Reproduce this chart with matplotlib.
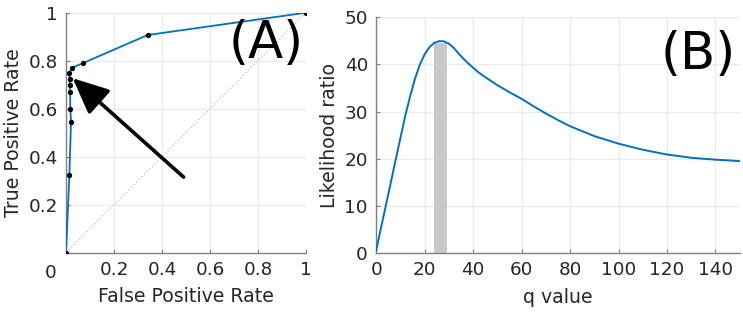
import matplotlib
matplotlib.use("Agg")
import matplotlib.pyplot as plt

# ROC curve (panel A)
fpr = [0.0, 0.014, 0.021, 0.018, 0.017, 0.015, 0.015, 0.014, 0.024, 0.071, 0.340, 1.0]
tpr = [0.0, 0.325, 0.545, 0.597, 0.670, 0.698, 0.723, 0.748, 0.770, 0.790, 0.907, 1.0]
arrow_tail = (0.49, 0.315)
arrow_tip = (0.028, 0.727)

# Likelihood ratio curve (panel B)
q = [0, 2, 4, 6, 8, 10, 12, 14, 16, 18, 20, 22, 24, 26, 28, 30, 32, 34, 36, 38, 40,
     42, 45, 50, 55, 60, 65, 70, 75, 80, 90, 100, 110, 120, 130, 140, 150]
lr = [0.6, 5.5, 10.2, 15.0, 19.8, 24.5, 29.2, 33.3, 37.0, 40.0, 42.2, 43.7, 44.6, 44.95,
      44.9, 44.4, 43.5, 42.3, 41.2, 40.2, 39.3, 38.4, 37.3, 35.6, 34.1, 32.7, 31.1, 29.6,
      28.2, 26.9, 24.8, 23.2, 21.9, 20.9, 20.2, 19.8, 19.5]
band_q = (24.0, 29.3)
band_top = 44.5

blue = "#0072BD"
axcol = "#808080"
txtcol = "#262626"
gridcol = "#ebebeb"

plt.rcParams['font.family'] = ['DejaVu Sans']

fig = plt.figure(figsize=(7.43, 3.14), dpi=100)

TICK_FS = 13.2
LAB_FS = 13.6

def style(ax):
    for s in ['top', 'right']:
        ax.spines[s].set_visible(False)
    for s in ['left', 'bottom']:
        ax.spines[s].set_color(axcol)
        ax.spines[s].set_linewidth(1.0)
    ax.tick_params(direction='in', length=3, color=axcol, labelsize=TICK_FS,
                   labelcolor=txtcol, pad=6)
    ax.grid(True, color=gridcol, linewidth=1.0)
    ax.set_axisbelow(True)

# Panel A
axA = fig.add_axes([66/743, 1-252.7/314, 240/743, 240/314])
style(axA)
axA.plot([0, 1], [0, 1], linestyle=':', color='#c8c8c8', linewidth=1.0)
axA.plot(fpr, tpr, color=blue, linewidth=1.3, marker='o', markersize=2.8,
         markerfacecolor='black', markeredgecolor='black', zorder=3)
axA.set_xlim(0, 1)
axA.set_ylim(0, 1)
axA.set_xticks([0.2, 0.4, 0.6, 0.8, 1.0])
axA.set_xticklabels(['0.2', '0.4', '0.6', '0.8', '1'])
axA.set_yticks([0.2, 0.4, 0.6, 0.8, 1.0])
axA.set_yticklabels(['0.2', '0.4', '0.6', '0.8', '1'])
axA.text(-0.065, -0.085, '0', transform=axA.transAxes, fontsize=TICK_FS, color=txtcol,
         ha='center', va='center')
axA.set_xlabel('False Positive Rate', fontsize=LAB_FS, color=txtcol, labelpad=6)
axA.set_ylabel('True Positive Rate', fontsize=LAB_FS, color=txtcol, labelpad=4)
axA.annotate('', xy=arrow_tip, xytext=arrow_tail,
             arrowprops=dict(arrowstyle='-|>,head_length=1.1,head_width=0.5',
                             lw=2.6, color='black', shrinkA=0, shrinkB=0,
                             mutation_scale=20), zorder=4)
axA.text(0.99, 0.87, '(A)', transform=axA.transAxes, fontsize=37, color='black',
         ha='right', va='center')

# Panel B
axB = fig.add_axes([376.3/743, 1-253/314, (739.6-376.3)/743, (253-17.3)/314])
style(axB)
axB.bar([(band_q[0] + band_q[1]) / 2], [band_top], width=band_q[1] - band_q[0],
        color='#c8c8c8', edgecolor='none', zorder=2)
axB.plot(q, lr, color=blue, linewidth=1.4, zorder=3)
axB.set_xlim(0, 150)
axB.set_ylim(0, 50)
axB.set_xticks(range(0, 151, 20))
axB.set_yticks(range(0, 51, 10))
axB.set_xlabel('q value', fontsize=LAB_FS, color=txtcol, labelpad=6)
axB.set_ylabel('Likelihood ratio', fontsize=LAB_FS, color=txtcol, labelpad=4)
axB.text(0.99, 0.84, '(B)', transform=axB.transAxes, fontsize=37, color='black',
         ha='right', va='center')

fig.savefig('out.png', dpi=100)
